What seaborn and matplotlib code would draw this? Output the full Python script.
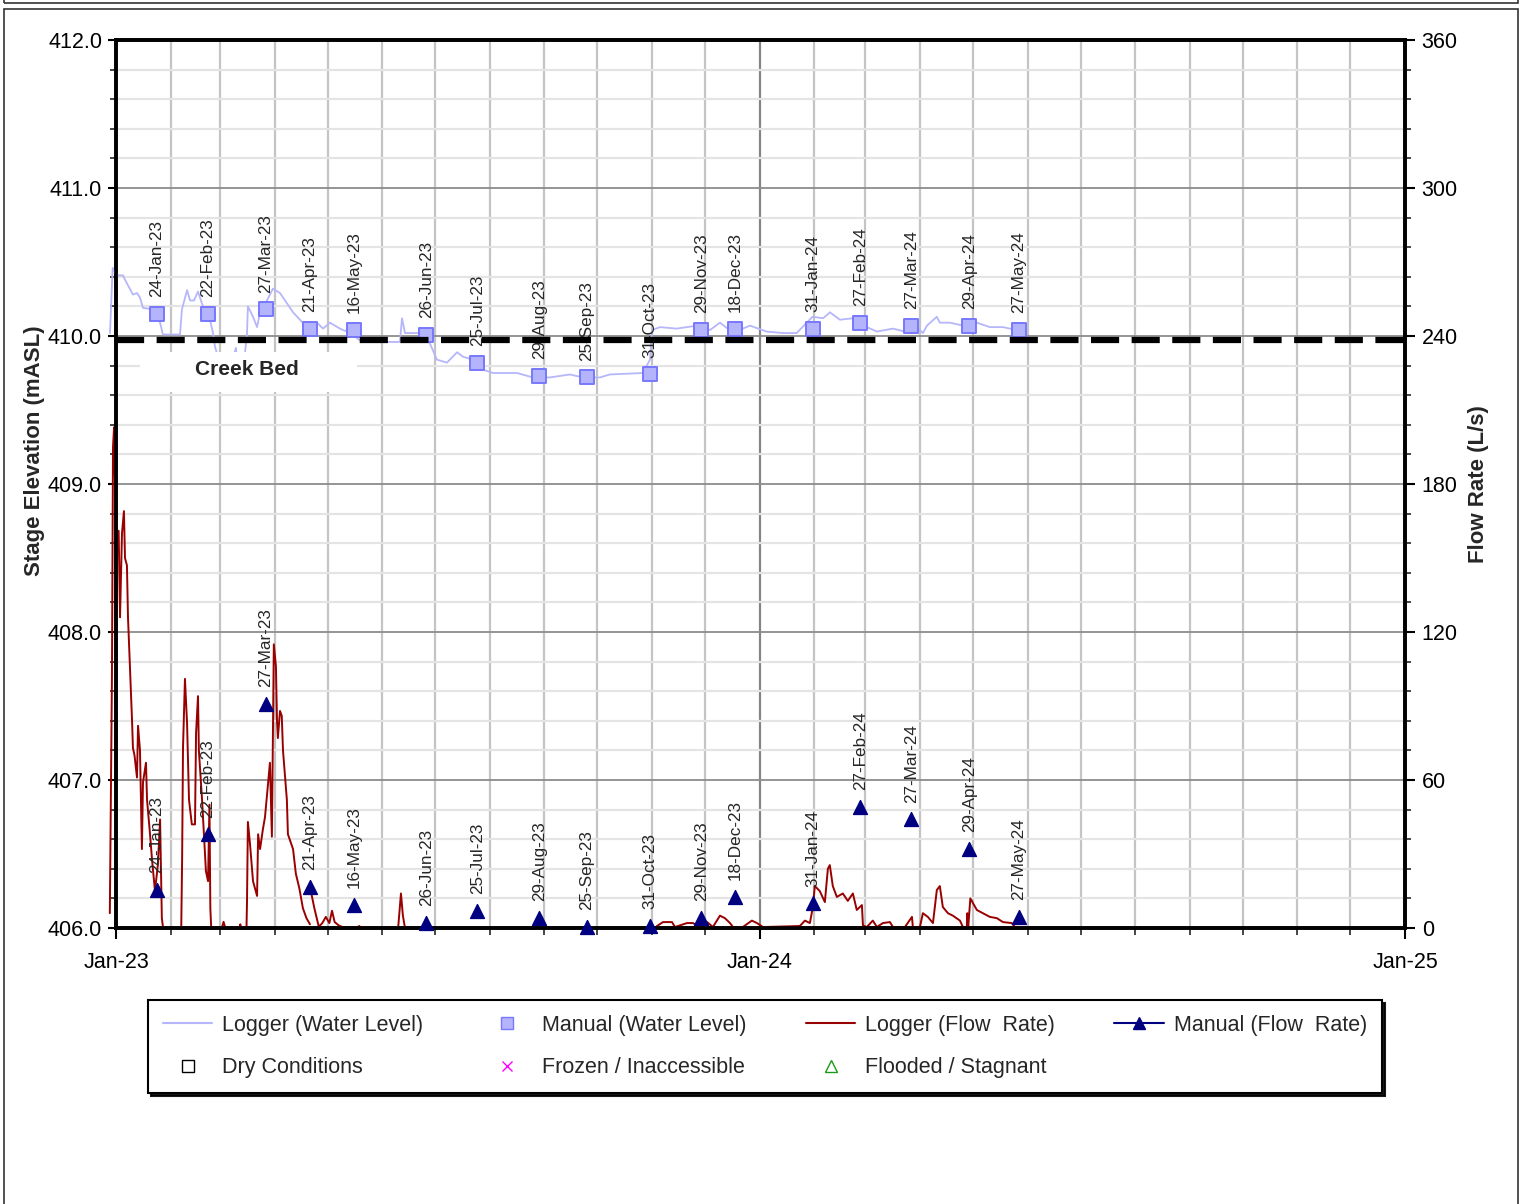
import numpy as np
import pandas as pd
import matplotlib
matplotlib.use("Agg")
import matplotlib.pyplot as plt
import matplotlib.dates as mdates
from matplotlib.lines import Line2D
from matplotlib.patches import Rectangle
from matplotlib.ticker import MultipleLocator, FormatStrFormatter
import seaborn as sns

# === Manual site visits ===
visit_dates = ["2023-01-24", "2023-02-22", "2023-03-27", "2023-04-21", "2023-05-16",
               "2023-06-26", "2023-07-25", "2023-08-29", "2023-09-25", "2023-10-31",
               "2023-11-29", "2023-12-18", "2024-01-31", "2024-02-27", "2024-03-27",
               "2024-04-29", "2024-05-27"]
manual_level = [410.15, 410.15, 410.18, 410.05, 410.04, 410.01, 409.82, 409.73, 409.72,
                409.74, 410.04, 410.05, 410.05, 410.09, 410.07, 410.07, 410.04]
manual_flow = [15.4, 38, 91, 16.6, 9.3, 2, 7, 4, 0.4, 0.8, 4, 12.6, 10, 49, 44, 32, 4.5]

# === Logger water level (days since 1-Jan-23, mASL) ===
wl_day = [-3.4, -1.9, 0.4, 4, 5.1, 9.6, 11.9, 13.6, 15.3, 21, 25, 26.6, 36.3, 37.4, 40.3,
          42, 44.2, 46.5, 49.3, 53.3, 55, 56.1, 57.8, 60, 64.6, 68, 69, 72, 74.3, 74.8,
          77.7, 80, 81.7, 85.6, 89, 93, 97, 100.4, 104.3, 108.3, 114, 117.4, 121.3, 127,
          132.7, 138.4, 145.7, 161, 162.2, 163.9, 172.4, 178, 182, 187.7, 193.4, 196.8,
          202.4, 206.4, 213.8, 227.4, 236.4, 246, 257.4, 264.8, 274.4, 280, 298.8, 302.8,
          304, 308.5, 318, 329.4, 336.8, 342.5, 348, 355.5, 359.5, 369, 378.2, 386, 395,
          401, 404.9, 410.5, 418, 425.8, 431.5, 440.6, 447.4, 454.2, 457.6, 459.9, 465.5,
          467.2, 473, 480.3, 488.2, 495.6, 503, 511]
wl_level = [410.02, 410.46, 410.41, 410.41, 410.38, 410.28, 410.29, 410.26, 410.19, 410.18,
            410.09, 410.01, 410.01, 410.18, 410.31, 410.24, 410.24, 410.30, 410.20, 410.11,
            410.02, 409.93, 409.86, 409.75, 409.78, 409.92, 409.80, 409.75, 410.02, 410.20,
            410.13, 410.06, 410.16, 410.24, 410.32, 410.29, 410.22, 410.16, 410.11, 410.06,
            410.09, 410.05, 410.09, 410.05, 410.02, 409.97, 409.96, 409.96, 410.12, 410.02,
            410.02, 409.95, 409.84, 409.82, 409.89, 409.86, 409.84, 409.78, 409.75, 409.75,
            409.72, 409.72, 409.74, 409.72, 409.72, 409.74, 409.75, 409.84, 410.04, 410.06,
            410.05, 410.07, 410.04, 410.09, 410.04, 410.05, 410.07, 410.03, 410.02, 410.02,
            410.13, 410.12, 410.16, 410.11, 410.12, 410.06, 410.03, 410.05, 410.03, 410.06,
            410.02, 410.07, 410.13, 410.09, 410.09, 410.07, 410.09, 410.06, 410.06, 410.04]

# === Logger flow rate (days since 1-Jan-23, L/s) ===
flow_day = [-3.5, -2.3, -1.7, -1.1, -0.6, 0.6, 1.5, 2.3, 2.8, 3.4, 4.5, 5.1, 6.2, 6.8,
            7.9, 9.1, 9.6, 10.5, 11.9, 12.5, 13.6, 14.7, 15.3, 17.0, 17.6, 19.3, 20.4,
            22.1, 23.8, 25.0, 26.0, 26.7,
            37.0, 37.5, 38.0, 39.1, 40.3, 41.4, 43.0, 44.8, 45.4, 46.5, 47.0, 48.8, 51.0,
            52.2, 53.0, 53.5, 54.0,
            60.0, 61.0, 62.0, 70.0, 70.5, 71.0, 74.0, 74.3, 74.8, 76.0, 77.7, 80.0, 80.6,
            81.7, 83.3, 84.5,
            87.3, 88.4, 89.0, 89.5, 90.7, 91.3, 91.8, 93.0, 94.0, 94.7, 96.9, 97.5, 100.4,
            102.0, 104.0, 106.0, 108.0, 110.0,
            110.2, 112.5, 115.0, 117.0, 119.0, 121.0, 122.5, 124.0, 126.4, 130.0, 136.0,
            138.0, 139.0, 160.0, 161.6, 162.7, 163.9,
            306.0, 306.8, 310.2, 315.3, 317.0, 323.8, 327.2, 331.2, 335.2, 338.5, 342.5,
            345.3, 348.2, 349.9, 355.5, 360.6, 363.5, 366.9, 387.8, 390.7, 393.5, 395.2,
            396.3, 399.1, 402.0, 403.7, 404.8, 406.5, 408.8, 412.2, 415.0, 417.9, 420.1,
            423.0, 423.6, 425.8, 429.2, 431.5, 434.9, 438.9, 440.6, 447.4, 451.4, 451.9,
            455.9, 457.6, 460.4, 463.3, 465.5, 467.2, 468.9, 471.8, 474.6, 478.6, 480.3,
            482.5, 482.8, 483.3, 484.5, 488.2, 491.6, 495.6, 499.5, 503.0, 508.0, 509.8]
flow_rate = [6, 102, 195, 203, 182, 161, 161, 126, 142, 160, 169, 150, 147, 126,
             106, 84, 73, 70, 61, 82, 72, 32, 59, 67, 52, 38, 28,
             15, 26, 44, 4, 0,
             0, 28, 73, 101, 83, 52, 42, 42, 79, 94, 72, 52, 23,
             19, 50, 8, 0,
             0, 2.5, 0, 0, 1.5, 0, 0, 11, 43, 34, 19, 13, 38,
             32, 40, 45,
             67, 37, 79, 115, 106, 84, 77, 88, 86, 72, 52, 38, 32,
             22, 16, 8, 4, 1.5,
             16, 8, 0.5, 2, 4.5, 2, 7, 2.4, 1, 0, 0,
             0.8, 0, 0, 14, 5, 0,
             0, 0.8, 2.4, 2.4, 0.4, 2.0, 2.0, 0.4, 2.4, 0.4, 5.0,
             4.0, 2.0, 0.4, 0.4, 3.0, 2.0, 0.4, 0.8, 3.0, 2.0, 8.5,
             17, 15, 10.5, 24, 25.5, 17, 12.6, 14, 11, 14, 7.3,
             9.3, 1.0, 0.4, 3.0, 0.4, 2.0, 2.4, 0.4, 0.4, 4.5, 0.4,
             0.4, 6.0, 4.5, 2.0, 15.4, 17, 8.5, 6.0, 5.0, 3.0, 0.4,
             0.4, 6, 0.4, 12, 7.3, 6.0, 4.5, 4.0, 2.4, 2.0, 0.4]
flow_breaks = [110.1]

creek_bed = 409.97

WL_COLOR = "#b6b6fa"
SQ_FACE = "#b4b4fc"
SQ_EDGE = "#7878ff"
FLOW_COLOR = "#990000"
TRI_COLOR = "#000080"

sns.set_theme(style="ticks")
plt.rcParams["font.family"] = ["Liberation Sans", "DejaVu Sans"]

start = pd.Timestamp("2023-01-01")
wl = pd.DataFrame({"date": start + pd.to_timedelta(wl_day, unit="D"), "level": wl_level})
fl = pd.DataFrame({"date": start + pd.to_timedelta(flow_day, unit="D"), "rate": flow_rate,
                   "seg": np.searchsorted(flow_breaks, flow_day)})
visits = pd.DataFrame({"date": pd.to_datetime(visit_dates), "level": manual_level,
                       "rate": manual_flow})
visits["label"] = visits["date"].dt.strftime("%d-%b-%y")

fig = plt.figure(figsize=(15.24, 12.04), dpi=100)
ax = fig.add_axes([116 / 1524, 1 - 928 / 1204, 1289 / 1524, 888 / 1204])
ax2 = ax.twinx()

# === Water level (left axis) ===
sns.lineplot(data=wl, x="date", y="level", ax=ax, color=WL_COLOR, linewidth=1.3,
             estimator=None, zorder=3)
ax.lines[-1].set_clip_on(False)
sns.scatterplot(data=visits, x="date", y="level", ax=ax, marker="s", s=95,
                color=SQ_FACE, edgecolor=SQ_EDGE, linewidth=1.4, zorder=6, clip_on=False)
for _, r in visits.iterrows():
    ax.annotate(r["label"], (r["date"], r["level"]), xytext=(0, 12), textcoords="offset points",
                rotation=90, ha="center", va="bottom", fontsize=12.3, zorder=5)
ax.axhline(creek_bed, color="black", linewidth=4.5, dashes=(4.5, 2), zorder=7)

ax.add_patch(Rectangle((0.0186, 0.6036), 0.1683, 0.045, transform=ax.transAxes,
                       facecolor="white", edgecolor="none", zorder=8))
ax.text(0.1016, 0.6295, "Creek Bed", transform=ax.transAxes, ha="center", va="center",
        fontsize=15, fontweight="bold", zorder=9)

# === Flow rate (right axis) ===
sns.lineplot(data=fl, x="date", y="rate", units="seg", estimator=None, ax=ax2,
             color=FLOW_COLOR, linewidth=1.4)
for ln in ax2.lines:
    ln.set_clip_on(False)
sns.scatterplot(data=visits, x="date", y="rate", ax=ax2, marker="^", s=100,
                color=TRI_COLOR, edgecolor=TRI_COLOR, linewidth=1, zorder=6, clip_on=False)
for _, r in visits.iterrows():
    ax2.annotate(r["label"], (r["date"], r["rate"]), xytext=(0, 12), textcoords="offset points",
                 rotation=90, ha="center", va="bottom", fontsize=12.3)

# === Axes, ticks, grid ===
ax.set_xlim(pd.Timestamp("2023-01-01"), pd.Timestamp("2025-01-01"))
ax.set_ylim(406, 412)
ax2.set_ylim(0, 360)

ax.xaxis.set_major_locator(mdates.YearLocator())
ax.xaxis.set_major_formatter(mdates.DateFormatter("%b-%y"))
ax.xaxis.set_minor_locator(mdates.MonthLocator())
ax.yaxis.set_major_locator(MultipleLocator(1))
ax.yaxis.set_minor_locator(MultipleLocator(0.2))
ax.yaxis.set_major_formatter(FormatStrFormatter("%.1f"))
ax2.yaxis.set_major_locator(MultipleLocator(60))
ax2.yaxis.set_minor_locator(MultipleLocator(12))

ax.set_axisbelow(True)
ax.grid(which="major", axis="x", color="#858585", linewidth=1.6)
ax.grid(which="minor", axis="x", color="#c4c4c4", linewidth=1.6)
ax.grid(which="major", axis="y", color="#8c8c8c", linewidth=1.3)
ax.grid(which="minor", axis="y", color="#e4e4e4", linewidth=1.6)
ax2.grid(False)

ax.tick_params(axis="y", which="major", direction="out", length=6, width=1.5,
               labelsize=15.5, pad=4, left=True, right=False, colors="black")
ax.tick_params(axis="y", which="minor", direction="out", length=4, width=1.2, left=True, right=False)
ax.tick_params(axis="x", which="major", direction="out", length=8, width=1.5,
               labelsize=15.5, pad=9, bottom=True, colors="black")
ax.tick_params(axis="x", which="minor", direction="out", length=5, width=1.2, bottom=True)
ax2.tick_params(axis="y", which="major", direction="out", length=7, width=1.5,
                labelsize=15.5, pad=5, right=True, colors="black")
ax2.tick_params(axis="y", which="minor", direction="out", length=4, width=1.2, right=True)

for a in (ax, ax2):
    for s in a.spines.values():
        s.set_visible(True)
        s.set_linewidth(2.6)
        s.set_color("black")

ax.set_xlabel("")
ax.set_ylabel("Stage Elevation (mASL)", fontsize=16, fontweight="bold")
ax.yaxis.set_label_coords(-0.055, 0.538)
ax2.set_ylabel("Flow Rate (L/s)", fontsize=16, fontweight="bold")
ax2.yaxis.set_label_coords(1.049, 0.5)

# === Legend ===
handles = [
    Line2D([], [], color=WL_COLOR, linewidth=1.5),
    Line2D([], [], ls="none", marker="s", markersize=8, markerfacecolor="white", markeredgecolor="black"),
    Line2D([], [], ls="none", marker="s", markersize=9, markerfacecolor=SQ_FACE, markeredgecolor=SQ_EDGE),
    Line2D([], [], ls="none", marker="x", markersize=7, color="#ff00ff"),
    Line2D([], [], color=FLOW_COLOR, linewidth=1.5),
    Line2D([], [], ls="none", marker="^", markersize=8, markerfacecolor="white", markeredgecolor="#1a9a1a"),
    Line2D([], [], color=TRI_COLOR, linewidth=1.5, marker="^", markersize=9),
]
labels = ["Logger (Water Level)", "Dry Conditions", "Manual (Water Level)",
          "Frozen / Inaccessible", "Logger (Flow  Rate)", "Flooded / Stagnant",
          "Manual (Flow  Rate)"]
leg = fig.legend(handles, labels, loc="upper left", ncol=4, mode="expand",
                 bbox_to_anchor=(148 / 1524, 1 - 1000 / 1204, 1234 / 1524, 0),
                 bbox_transform=fig.transFigure, borderaxespad=0, fontsize=15.5,
                 handlelength=2.3, handletextpad=0.47, labelspacing=1.0, borderpad=0.69,
                 fancybox=False, framealpha=1, edgecolor="black",
                 shadow={"color": "black", "alpha": 0.9})
leg.get_frame().set_linewidth(1.5)

# === Page frame ===
fig.add_artist(Rectangle((4 / 1524, -0.01), 1514 / 1524, 1.0025, transform=fig.transFigure,
                         fill=False, edgecolor="#333333", linewidth=1.2))
fig.add_artist(Rectangle((4 / 1524, 1 - 3 / 1204), 1514 / 1524, 0.1, transform=fig.transFigure,
                         fill=False, edgecolor="#333333", linewidth=1.2))

fig.savefig("out.png", dpi=100)
